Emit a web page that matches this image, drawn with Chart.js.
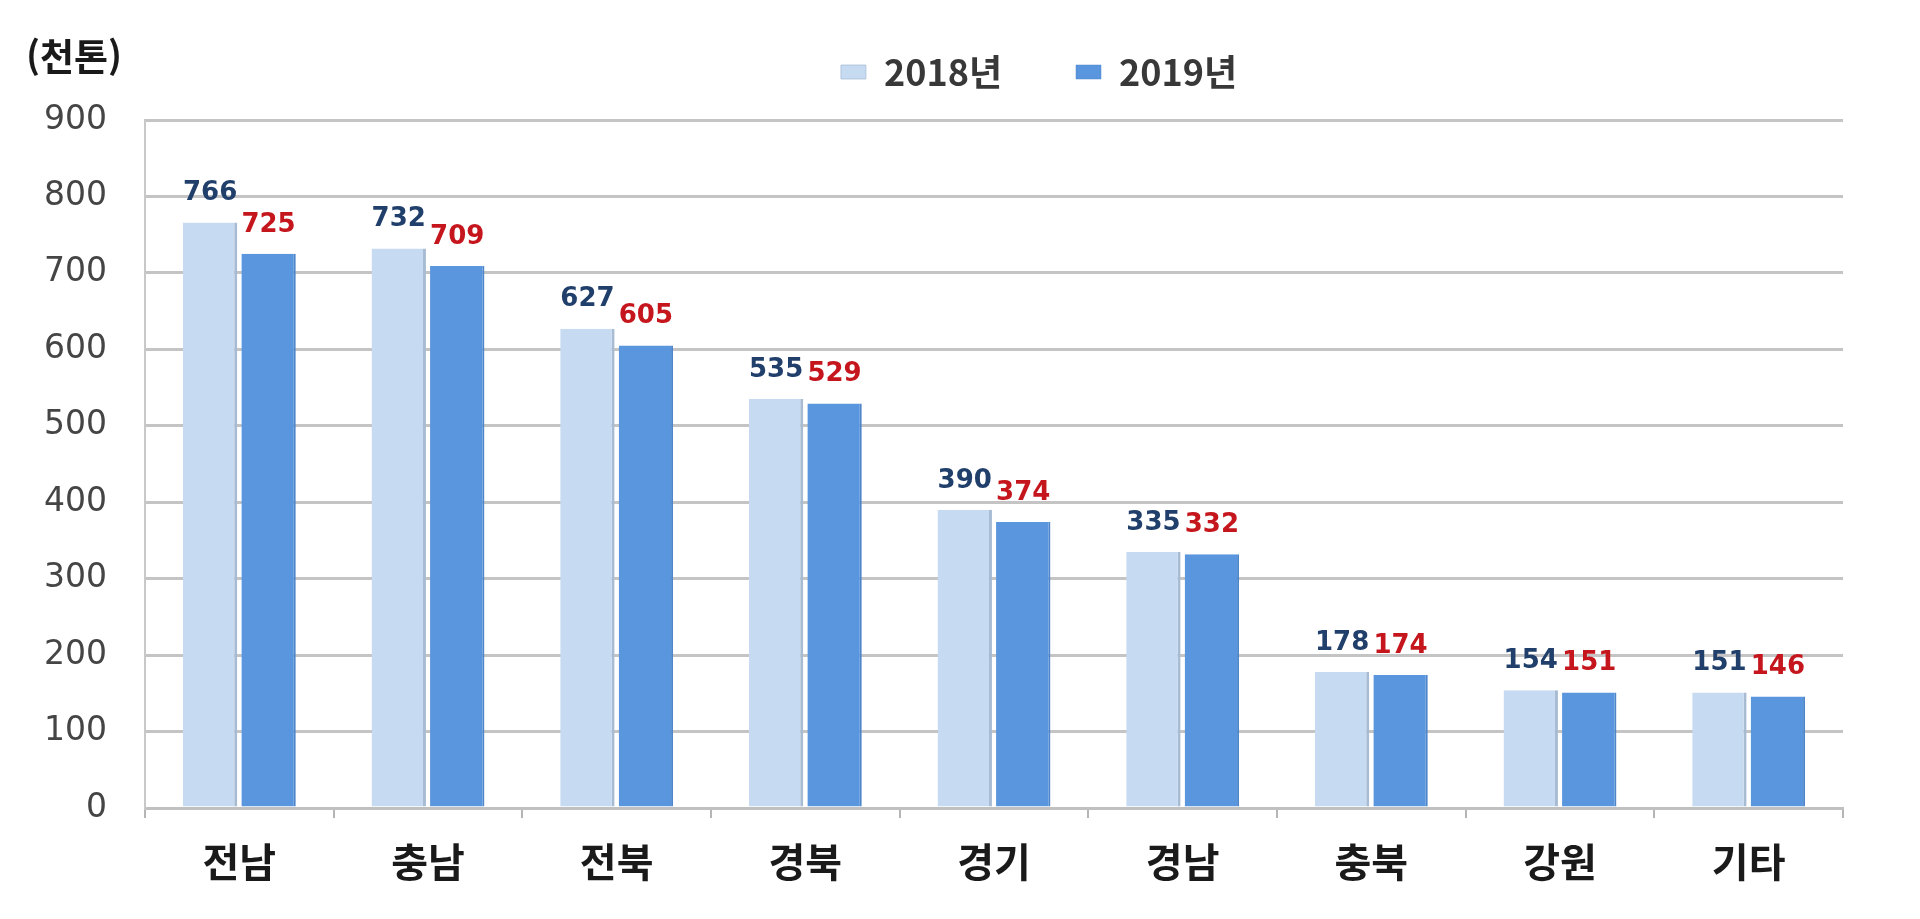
<!DOCTYPE html>
<html lang="ko">
<head>
<meta charset="utf-8">
<title>지역별 생산량</title>
<script src="https://cdn.jsdelivr.net/npm/chart.js@4/dist/chart.umd.min.js"></script>
<style>
  html, body { margin: 0; padding: 0; background: #fff; }
  #wrap { position: relative; width: 1920px; height: 919px; }
</style>
</head>
<body>
<div id="wrap"><canvas id="regionChart"></canvas></div>
<script>
const regions = ["전남", "충남", "전북", "경북", "경기", "경남", "충북", "강원", "기타"];
const values2018 = [766, 732, 627, 535, 390, 335, 178, 154, 151];
const values2019 = [725, 709, 605, 529, 374, 332, 174, 151, 146];
const seriesNames = ["2018년", "2019년"];
const unitLabel = "(천톤)";

const KR_FONT = "'Noto Sans CJK KR', 'Noto Sans', sans-serif";
const NUM_FONT = "'DejaVu Sans', 'Noto Sans', sans-serif";

// value labels above each bar
const barValues = {
  id: "barValues",
  afterDatasetsDraw(chart) {
    const ctx = chart.ctx;
    const colors = ["#213f6b", "#c4161c"];
    ctx.save();
    ctx.font = "bold 26px " + NUM_FONT;
    ctx.textAlign = "center";
    ctx.textBaseline = "middle";
    chart.data.datasets.forEach((ds, i) => {
      ctx.fillStyle = colors[i];
      chart.getDatasetMeta(i).data.forEach((bar, j) => {
        ctx.fillText(ds.data[j], bar.x, bar.y - 29);
      });
    });
    ctx.restore();
  },
};

// unit text in the top-left corner
const unitText = {
  id: "unitText",
  afterDraw(chart) {
    const ctx = chart.ctx;
    ctx.save();
    ctx.font = "bold 37px " + KR_FONT;
    ctx.fillStyle = "#1a1a1a";
    ctx.textAlign = "left";
    ctx.textBaseline = "middle";
    ctx.fillText(unitLabel, 26, 57);
    ctx.restore();
  },
};

// move the legend a bit right and up, like the original
const legendShift = {
  id: "legendShift",
  afterLayout(chart) {
    const lg = chart.legend;
    const dx = 1039 - (lg.left + lg.right) / 2;
    lg.left += dx;
    lg.right += dx;
    lg.top -= 20;
    lg.bottom -= 20;
  },
};

const data = {
  labels: regions,
  datasets: [
    {
      label: seriesNames[0],
      data: values2018,
      backgroundColor: "#c6daf2",
      borderColor: "#a7bbd3",
      borderWidth: { top: 0, right: 3, bottom: 0, left: 0 },
      borderSkipped: false,
      categoryPercentage: 0.62,
      barPercentage: 0.93,
    },
    {
      label: seriesNames[1],
      data: values2019,
      backgroundColor: "#5a96de",
      borderColor: "#4f86c9",
      borderWidth: { top: 0, right: 2, bottom: 0, left: 0 },
      borderSkipped: false,
      categoryPercentage: 0.62,
      barPercentage: 0.93,
    },
  ],
};

const config = {
  type: "bar",
  data: data,
  options: {
    responsive: true,
    maintainAspectRatio: false,
    devicePixelRatio: 1,
    animation: false,
    layout: { padding: { top: 0, left: 20, right: 77, bottom: 13 } },
    plugins: {
      tooltip: { enabled: false },
      legend: {
        position: "top",
        align: "center",
        labels: {
          boxWidth: 25,
          boxHeight: 14,
          padding: 74,
          color: "#383838",
          font: { family: KR_FONT, size: 36, weight: "bold" },
        },
      },
    },
    scales: {
      x: {
        grid: {
          offset: true,
          drawOnChartArea: false,
          tickLength: 10,
          color: "#b5b5b5",
          lineWidth: 2,
        },
        border: { color: "#c0c0c0", width: 3 },
        ticks: {
          padding: 20,
          color: "#1a1a1a",
          font: { family: KR_FONT, size: 40, weight: "bold" },
        },
      },
      y: {
        min: 0,
        max: 900,
        afterFit(scale) {
          scale.width = 125;
        },
        grid: {
          drawTicks: false,
          color: "#c4c4c4",
          lineWidth: 3,
        },
        border: { color: "#c8c8c8", width: 2 },
        ticks: {
          stepSize: 100,
          padding: 38,
          color: "#454545",
          font: { family: NUM_FONT, size: 33 },
        },
      },
    },
  },
  plugins: [barValues, unitText, legendShift],
};

const ctx = document.getElementById("regionChart").getContext("2d");
const regionChart = new Chart(ctx, config);
</script>
</body>
</html>
